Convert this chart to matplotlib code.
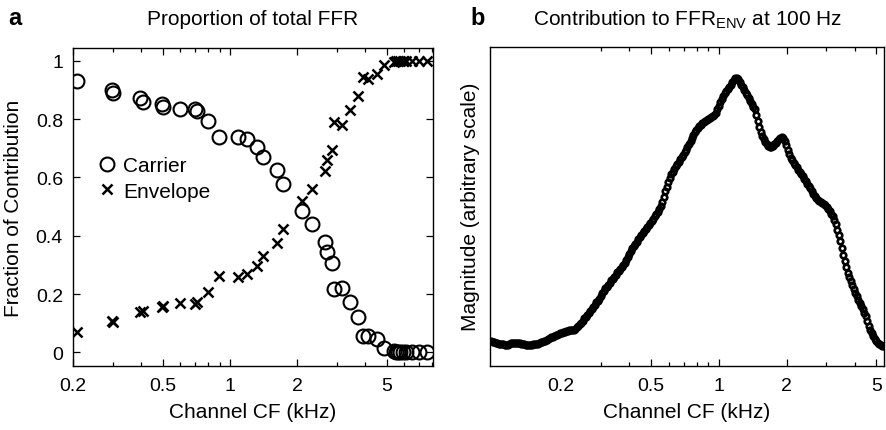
import numpy as np
import matplotlib
matplotlib.use("Agg")
import matplotlib.pyplot as plt
from matplotlib.ticker import FixedLocator, NullFormatter, FixedFormatter

plt.rcParams['font.family'] = ['Liberation Sans', 'DejaVu Sans']

# ---------------- Panel a data ----------------
cf_a = [0.208, 0.297, 0.302, 0.397, 0.408, 0.496, 0.504, 0.598, 0.698, 0.715,
        0.80, 0.896, 1.09, 1.187, 1.315, 1.409, 1.615, 1.718, 2.09, 2.33,
        2.65, 2.72, 2.84, 2.92, 3.15, 3.43, 3.74, 3.93, 4.14, 4.51,
        4.88, 5.4, 5.5, 5.6, 5.75, 5.9, 6.1, 6.5, 7.0, 7.6]
carrier = [0.931, 0.900, 0.891, 0.871, 0.859, 0.851, 0.840, 0.834, 0.834, 0.829,
           0.794, 0.739, 0.739, 0.731, 0.703, 0.669, 0.626, 0.577, 0.486, 0.440,
           0.377, 0.343, 0.305, 0.217, 0.219, 0.171, 0.120, 0.057, 0.055, 0.046,
           0.015, 0.003, 0.002, 0.001, 0.001, 0.0, 0.0, 0.0, 0.0, 0.0]
envelope = [0.071, 0.106, 0.103, 0.137, 0.143, 0.154, 0.160, 0.169, 0.166, 0.171,
            0.206, 0.263, 0.259, 0.269, 0.297, 0.331, 0.374, 0.423, 0.520, 0.560,
            0.623, 0.659, 0.695, 0.789, 0.779, 0.831, 0.880, 0.943, 0.937, 0.954,
            0.985, 0.997, 0.998, 0.999, 0.999, 1.0, 1.0, 1.0, 1.0, 1.0]

# ---------------- Panel b data ----------------
cf_b = [0.0982, 0.0997, 0.1012, 0.1028, 0.1043, 0.1059, 0.1076, 0.1093, 0.1110, 0.1127,
        0.1144, 0.1162, 0.1180, 0.1198, 0.1216, 0.1235, 0.1254, 0.1273, 0.1293, 0.1313,
        0.1333, 0.1354, 0.1374, 0.1395, 0.1417, 0.1439, 0.1461, 0.1484, 0.1506, 0.1529,
        0.1553, 0.1577, 0.1601, 0.1626, 0.1651, 0.1676, 0.1702, 0.1728, 0.1755, 0.1782,
        0.1810, 0.1838, 0.1866, 0.1895, 0.1924, 0.1954, 0.1983, 0.2014, 0.2045, 0.2077,
        0.2109, 0.2141, 0.2174, 0.2208, 0.2242, 0.2277, 0.2311, 0.2347, 0.2383, 0.2420,
        0.2457, 0.2495, 0.2533, 0.2572, 0.2612, 0.2652, 0.2693, 0.2734, 0.2777, 0.2820,
        0.2863, 0.2907, 0.2952, 0.2997, 0.3044, 0.3091, 0.3138, 0.3186, 0.3236, 0.3286,
        0.3336, 0.3387, 0.3440, 0.3493, 0.3547, 0.3602, 0.3657, 0.3713, 0.3770, 0.3828,
        0.3887, 0.3947, 0.4008, 0.4070, 0.4132, 0.4196, 0.4261, 0.4327, 0.4393, 0.4461,
        0.4529, 0.4599, 0.4670, 0.4742, 0.4815, 0.4889, 0.4964, 0.5040, 0.5118, 0.5197,
        0.5277, 0.5358, 0.5441, 0.5525, 0.5610, 0.5696, 0.5784, 0.5873, 0.5963, 0.6055,
        0.6149, 0.6244, 0.6340, 0.6438, 0.6536, 0.6637, 0.6739, 0.6843, 0.6949, 0.7056,
        0.7164, 0.7274, 0.7387, 0.7501, 0.7616, 0.7733, 0.7852, 0.7973, 0.8096, 0.8221,
        0.8348, 0.8477, 0.8607, 0.8740, 0.8874, 0.9011, 0.9151, 0.9292, 0.9434, 0.9579,
        0.9728, 0.9878, 1.0030, 1.0185, 1.0342, 1.0501, 1.0663, 1.0827, 1.0992, 1.1161,
        1.1334, 1.1509, 1.1686, 1.1866, 1.2050, 1.2236, 1.2424, 1.2615, 1.2807, 1.3004,
        1.3206, 1.3409, 1.3615, 1.3825, 1.4039, 1.4255, 1.4475, 1.4698, 1.4922, 1.5152,
        1.5386, 1.5623, 1.5867, 1.6111, 1.6360, 1.6612, 1.6868, 1.7128, 1.7390, 1.7658,
        1.7930, 1.8206, 1.8487, 1.8772, 1.9062, 1.9356, 1.9654, 1.9957, 2.0262, 2.0574,
        2.0893, 2.1215, 2.1543, 2.1875, 2.2213, 2.2555, 2.2904, 2.3257, 2.3612, 2.3976,
        2.4346, 2.4721, 2.5103, 2.5490, 2.5882, 2.6281, 2.6687, 2.7098, 2.7512, 2.7936,
        2.8367, 2.8804, 2.9249, 2.9700, 3.0158, 3.0623, 3.1096, 3.1575, 3.2058, 3.2552,
        3.3055, 3.3564, 3.4083, 3.4608, 3.5142, 3.5683, 3.6235, 3.6793, 3.7355, 3.7930,
        3.8517, 3.9110, 3.9715, 4.0327, 4.0950, 4.1581, 4.2223, 4.2873, 4.3529, 4.4199,
        4.4875, 4.5566, 4.6276, 4.6989, 4.7715, 4.8450, 4.9198, 4.9956, 5.0722, 5.1503,
        5.2299, 5.3104, 5.3925]
magnitude = [0.077, 0.075, 0.074, 0.072, 0.071, 0.069, 0.068, 0.067, 0.066, 0.065,
             0.064, 0.065, 0.068, 0.070, 0.071, 0.072, 0.072, 0.072, 0.071, 0.070,
             0.069, 0.067, 0.066, 0.065, 0.064, 0.063, 0.064, 0.065, 0.066, 0.067,
             0.068, 0.069, 0.071, 0.073, 0.075, 0.076, 0.078, 0.080, 0.083, 0.085,
             0.088, 0.090, 0.093, 0.095, 0.097, 0.100, 0.102, 0.103, 0.105, 0.106,
             0.107, 0.108, 0.110, 0.110, 0.111, 0.113, 0.116, 0.120, 0.124, 0.129,
             0.135, 0.141, 0.148, 0.153, 0.159, 0.165, 0.171, 0.177, 0.184, 0.191,
             0.198, 0.204, 0.210, 0.219, 0.228, 0.235, 0.243, 0.248, 0.254, 0.260,
             0.267, 0.273, 0.279, 0.285, 0.292, 0.297, 0.303, 0.309, 0.316, 0.323,
             0.331, 0.340, 0.350, 0.360, 0.369, 0.375, 0.381, 0.389, 0.397, 0.403,
             0.410, 0.416, 0.422, 0.428, 0.435, 0.441, 0.447, 0.453, 0.460, 0.468,
             0.476, 0.483, 0.491, 0.501, 0.513, 0.530, 0.548, 0.562, 0.576, 0.589,
             0.601, 0.609, 0.617, 0.625, 0.633, 0.640, 0.648, 0.655, 0.661, 0.669,
             0.677, 0.686, 0.695, 0.704, 0.714, 0.723, 0.733, 0.740, 0.746, 0.751,
             0.755, 0.760, 0.765, 0.768, 0.771, 0.774, 0.777, 0.779, 0.782, 0.787,
             0.793, 0.804, 0.815, 0.826, 0.837, 0.847, 0.856, 0.862, 0.868, 0.874,
             0.881, 0.889, 0.896, 0.902, 0.904, 0.900, 0.890, 0.882, 0.874, 0.865,
             0.856, 0.848, 0.840, 0.830, 0.821, 0.813, 0.805, 0.787, 0.768, 0.750,
             0.733, 0.721, 0.711, 0.703, 0.695, 0.690, 0.686, 0.686, 0.689, 0.694,
             0.699, 0.705, 0.711, 0.715, 0.716, 0.713, 0.705, 0.691, 0.677, 0.664,
             0.652, 0.644, 0.636, 0.629, 0.623, 0.615, 0.608, 0.601, 0.595, 0.587,
             0.579, 0.571, 0.564, 0.556, 0.548, 0.540, 0.532, 0.526, 0.521, 0.517,
             0.513, 0.510, 0.507, 0.503, 0.498, 0.492, 0.485, 0.477, 0.469, 0.457,
             0.444, 0.427, 0.410, 0.390, 0.369, 0.348, 0.328, 0.309, 0.290, 0.277,
             0.265, 0.252, 0.240, 0.229, 0.218, 0.207, 0.196, 0.186, 0.177, 0.166,
             0.155, 0.139, 0.124, 0.113, 0.102, 0.092, 0.083, 0.077, 0.071, 0.066,
             0.063, 0.062, 0.061]

xticks_a = [0.2, 0.5, 1, 2, 5]
xtick_labels = ['0.2', '0.5', '1', '2', '5']
yticks_a = [0, 0.2, 0.4, 0.6, 0.8, 1]
ytick_labels_a = ['0', '0.2', '0.4', '0.6', '0.8', '1']

W, H = 886, 431
fig = plt.figure(figsize=(W / 100, H / 100), dpi=100)

def fx(px):
    return px / W

def fy(py):
    return 1 - py / H

axA = fig.add_axes([fx(72.7), fy(366.7), fx(433.3 - 72.7), (366.7 - 49.3) / H])
axB = fig.add_axes([fx(490), fy(366.5), fx(884 - 490), (366.5 - 48) / H])

FS = 15
TFS = 14

def style_axis(ax, minor):
    ax.set_xscale('log')
    ax.xaxis.set_major_locator(FixedLocator(xticks_a))
    ax.xaxis.set_major_formatter(FixedFormatter(xtick_labels))
    ax.xaxis.set_minor_locator(FixedLocator(minor))
    ax.xaxis.set_minor_formatter(NullFormatter())
    ax.tick_params(which='both', direction='in', top=True, right=True,
                   labelsize=TFS, width=0.9)
    ax.tick_params(which='major', length=5, pad=8)
    ax.tick_params(which='minor', length=3)
    for s in ax.spines.values():
        s.set_linewidth(1.0)

# ---------- Panel a ----------
style_axis(axA, [0.3, 0.4, 0.6, 0.7, 0.8, 0.9, 3, 4, 6, 7, 8])
axA.plot(cf_a, carrier, linestyle='none', marker='o', ms=10, mfc='none',
         mec='black', mew=1.5, label='Carrier')
axA.plot(cf_a, envelope, linestyle='none', marker='x', ms=6.5,
         color='black', mew=1.8, label='Envelope')
axA.set_xlim(0.1988, 8.07)
axA.set_ylim(-0.046, 1.043)
axA.set_yticks(yticks_a)
axA.set_yticklabels(ytick_labels_a)
axA.tick_params(axis='y', pad=7)
axA.set_xlabel('Channel CF (kHz)', fontsize=FS, labelpad=6)
axA.set_ylabel('Fraction of Contribution', fontsize=FS)
axA.yaxis.set_label_coords(-0.138, 0.5)
axA.legend(loc='center left', bbox_to_anchor=(0.070, 0.590), frameon=False,
           fontsize=FS, handlelength=0.9, handletextpad=0.3, borderpad=0,
           borderaxespad=0, labelspacing=0.32, numpoints=1)

# ---------- Panel b ----------
style_axis(axB, [0.3, 0.4, 0.6, 0.7, 0.8, 0.9, 3, 4])
axB.plot(cf_b, magnitude, linestyle='none', marker='o', ms=4.0, mfc='none',
         mec='black', mew=1.9)
axB.set_xlim(0.097, 5.4)
axB.set_ylim(0, 1)
axB.set_yticks([])
axB.xaxis.get_major_ticks()[0].tick1line.set_visible(False)
axB.xaxis.get_major_ticks()[0].tick2line.set_visible(False)
axB.set_xlabel('Channel CF (kHz)', fontsize=FS, labelpad=6)
axB.set_ylabel('Magnitude (arbitrary scale)', fontsize=FS)
axB.yaxis.set_label_coords(-0.025, 0.5)

# ---------- Titles and panel letters ----------
fig.text(fx(253), fy(25), 'Proportion of total FFR', ha='center', va='baseline',
         fontsize=FS)
fig.text(fx(688), fy(25), r'Contribution to FFR$_{\mathregular{ENV}}$ at 100 Hz',
         ha='center', va='baseline', fontsize=FS)
fig.text(fx(8), fy(25), 'a', ha='left', va='baseline', fontsize=17,
         fontweight='bold')
fig.text(fx(470), fy(25), 'b', ha='left', va='baseline', fontsize=17,
         fontweight='bold')

fig.savefig('out.png', dpi=100)
